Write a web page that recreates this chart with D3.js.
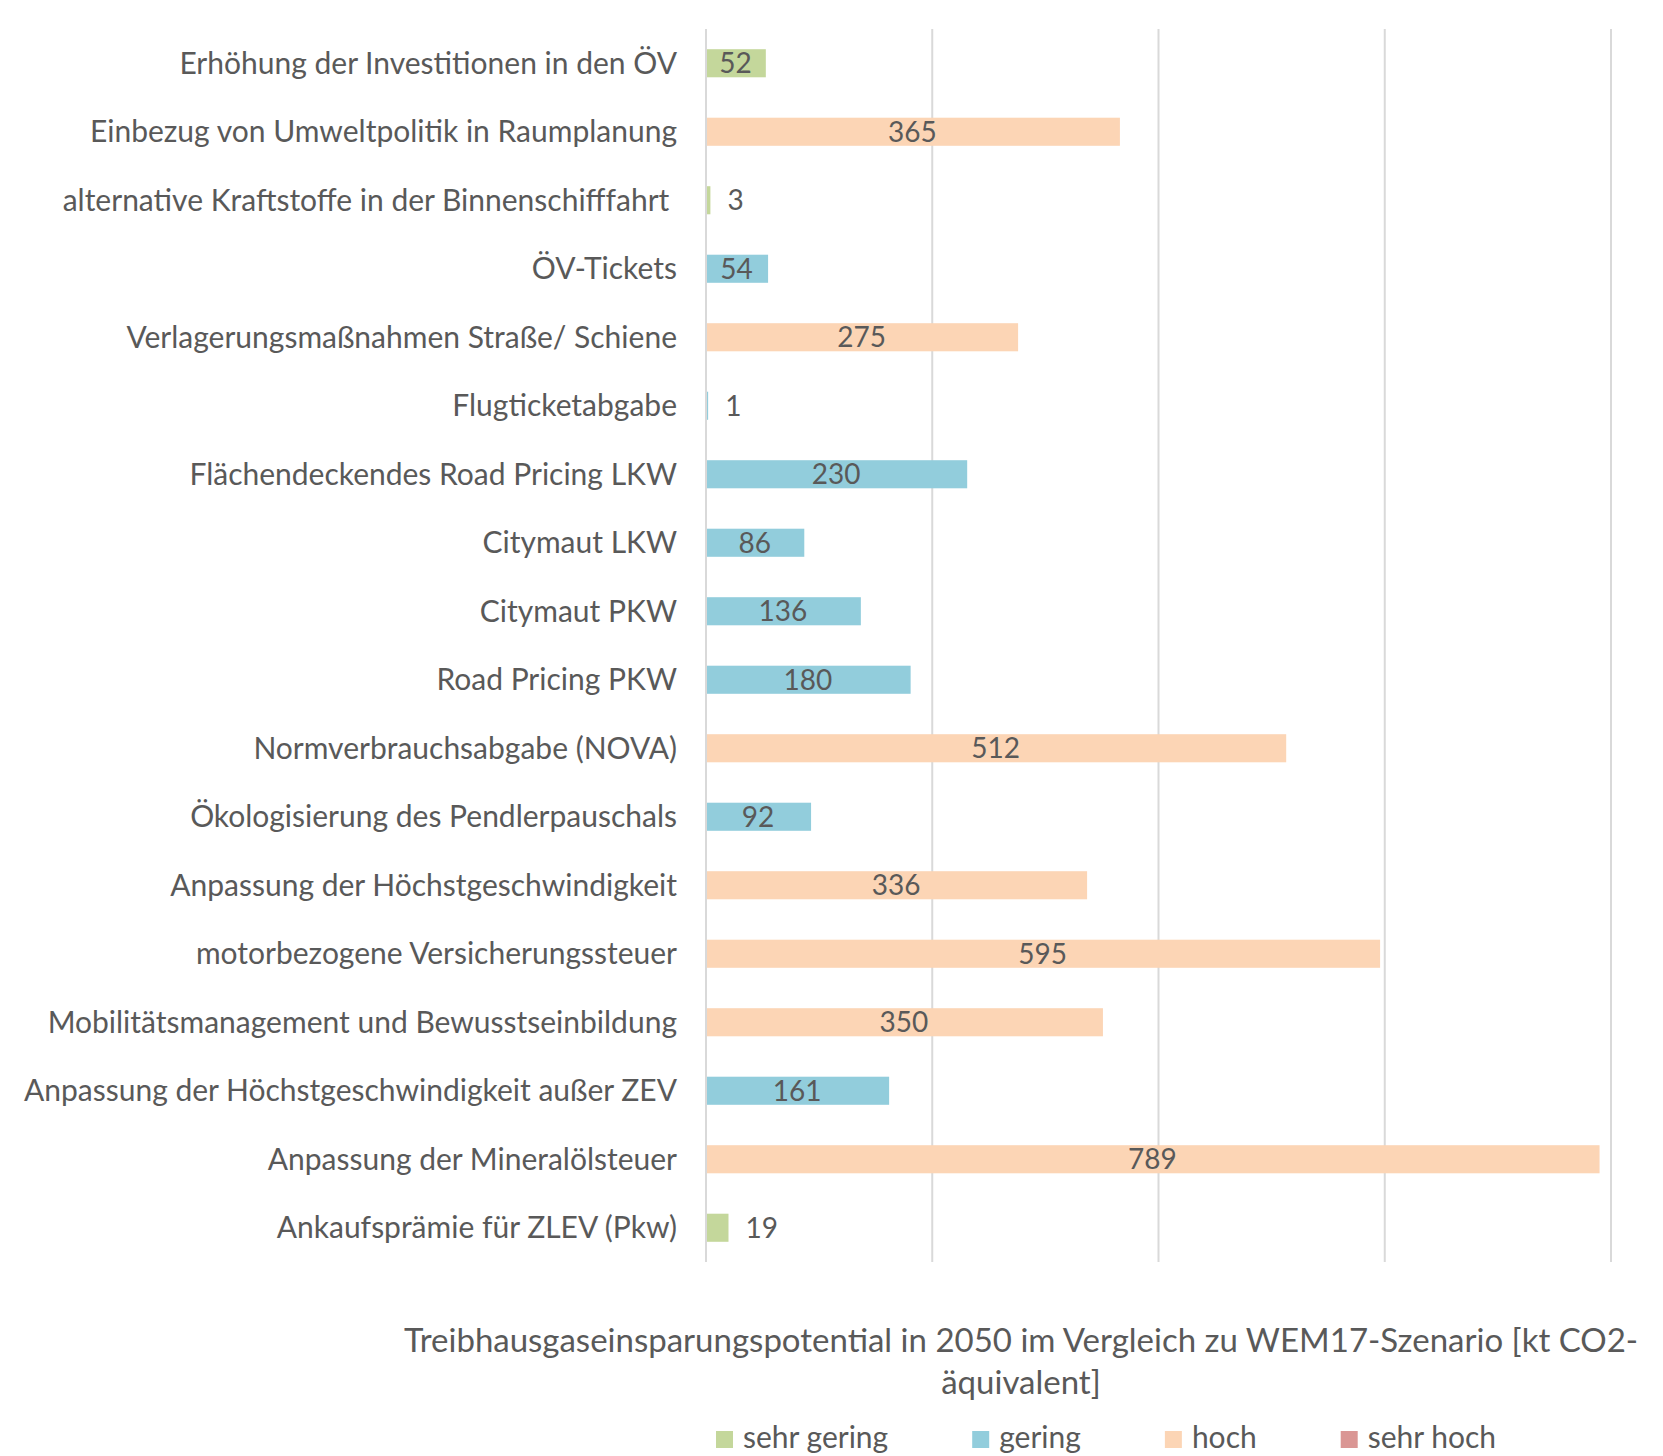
<!DOCTYPE html>
<html>
<head>
<meta charset="utf-8">
<script src="https://cdn.jsdelivr.net/npm/d3@7"></script>
<style>
  body { margin: 0; background: #fff; }
  svg text { font-family: Lato, "Open Sans", sans-serif; fill: #595959; }
</style>
</head>
<body>
<div id="chart"></div>
<script>
// data, top to bottom
const categories = [
  "Erhöhung der Investitionen in den ÖV",
  "Einbezug von Umweltpolitik in Raumplanung",
  "alternative Kraftstoffe in der Binnenschifffahrt ",
  "ÖV-Tickets",
  "Verlagerungsmaßnahmen Straße/ Schiene",
  "Flugticketabgabe",
  "Flächendeckendes Road Pricing LKW",
  "Citymaut LKW",
  "Citymaut PKW",
  "Road Pricing PKW",
  "Normverbrauchsabgabe (NOVA)",
  "Ökologisierung des Pendlerpauschals",
  "Anpassung der Höchstgeschwindigkeit",
  "motorbezogene Versicherungssteuer",
  "Mobilitätsmanagement und Bewusstseinbildung",
  "Anpassung der Höchstgeschwindigkeit außer ZEV",
  "Anpassung der Mineralölsteuer",
  "Ankaufsprämie für ZLEV (Pkw)"
]
const values = [52, 365, 3, 54, 275, 1, 230, 86, 136, 180, 512, 92, 336, 595, 350, 161, 789, 19]
const levels = ["sehr gering", "hoch", "sehr gering", "gering", "hoch", "gering", "gering", "gering",
  "gering", "gering", "hoch", "gering", "hoch", "hoch", "hoch", "gering", "hoch", "sehr gering"]

const levelNames = ["sehr gering", "gering", "hoch", "sehr hoch"]
const levelColors = ["#c4d79b", "#92cddc", "#fcd5b5", "#da9694"]
const xTicks = [0, 200, 400, 600, 800]
const axisTitle = ["Treibhausgaseinsparungspotential in 2050 im Vergleich zu WEM17-Szenario [kt CO2-", "äquivalent]"]

const width = 1663, height = 1456
const plot = { left: 706, right: 1611, top: 29, bottom: 1262 }

const svg = d3.select('#chart').append('svg')
  .attr('width', width)
  .attr('height', height)

const x = d3.scaleLinear().domain([0, 800]).range([plot.left, plot.right])
const y = d3.scaleBand().domain(categories).range([plot.top, plot.bottom])
  .paddingInner(0.59).paddingOuter(0.295)
const color = d3.scaleOrdinal().domain(levelNames).range(levelColors)

// gridlines (incl. the zero line)
svg.append('g').selectAll('line')
  .data(xTicks)
  .join('line')
  .attr('x1', d => x(d)).attr('x2', d => x(d))
  .attr('y1', plot.top).attr('y2', plot.bottom)
  .attr('stroke', '#d9d9d9')
  .attr('stroke-width', 2)

const rows = categories.map((c, i) => ({ name: c, value: values[i], level: levels[i] }))

// bars
svg.append('g').selectAll('rect')
  .data(rows)
  .join('rect')
  .attr('x', x(0) + 1)
  .attr('y', d => y(d.name))
  .attr('width', d => x(d.value) - x(0))
  .attr('height', y.bandwidth())
  .attr('fill', d => color(d.level))

// category labels
svg.append('g').selectAll('text')
  .data(rows)
  .join('text')
  .attr('x', 677)
  .attr('y', d => y(d.name) + y.bandwidth() / 2)
  .attr('dy', '0.35em')
  .attr('text-anchor', 'end')
  .style('white-space', 'pre')
  .style('font-size', '30px')
  .text(d => d.name)

// value labels: centred in the bar, or just right of it when it doesn't fit
const vals = svg.append('g').selectAll('text')
  .data(rows)
  .join('text')
  .attr('y', d => y(d.name) + y.bandwidth() / 2)
  .attr('dy', '0.35em')
  .style('font-size', '28px')
  .text(d => d.value)

vals.each(function(d) {
  const w = this.getComputedTextLength()
  const barW = x(d.value) - x(0)
  if (w + 6 < barW) {
    d3.select(this).attr('x', x(0) + barW / 2).attr('text-anchor', 'middle')
  } else {
    d3.select(this).attr('x', x(d.value) + 18).attr('text-anchor', 'start')
  }
})

// axis title
svg.append('text')
  .attr('x', 1021)
  .attr('y', 1352)
  .attr('text-anchor', 'middle')
  .style('font-size', '33px')
  .selectAll('tspan')
  .data(axisTitle)
  .join('tspan')
  .attr('x', 1021)
  .attr('dy', (d, i) => i ? 42 : 0)
  .text(d => d)

// legend
const legend = svg.append('g')
let lx = 716
levelNames.forEach(name => {
  const g = legend.append('g').attr('transform', `translate(${lx},0)`)
  g.append('rect')
    .attr('x', 0).attr('y', 1431)
    .attr('width', 17).attr('height', 17)
    .attr('fill', color(name))
  const t = g.append('text')
    .attr('x', 27).attr('y', 1448)
    .style('font-size', '30px')
    .text(name)
  lx += 27 + t.node().getComputedTextLength() + 84
})
</script>
</body>
</html>
